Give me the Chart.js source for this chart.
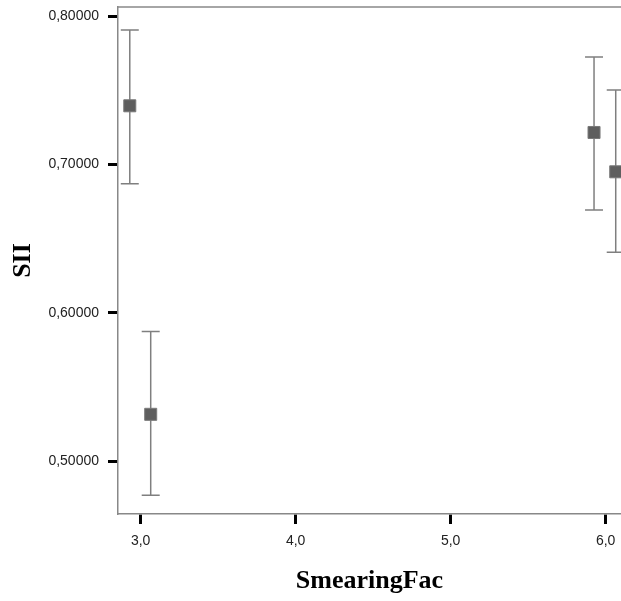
<!DOCTYPE html>
<html>
<head>
<meta charset="utf-8">
<script src="https://cdn.jsdelivr.net/npm/chart.js@4"></script>
<style>
    html, body { margin: 0; padding: 0; background: #fff; }
    #wrap { width: 621px; height: 601px; }
</style>
</head>
<body>
<div id="wrap"><canvas id="myChart" width="621" height="601"></canvas></div>
<script>
// group means with error bars (lower / upper limits)
var smearingFac = [2.93, 3.065, 5.925, 6.065];
var siiMean = [0.7395, 0.5315, 0.7215, 0.695];
var siiLow = [0.687, 0.477, 0.6692, 0.6407];
var siiHigh = [0.7906, 0.5874, 0.7724, 0.7501];

var xTicks = [3, 4, 5, 6];
var yTicks = [0.5, 0.6, 0.7, 0.8];

const tickFont = { family: 'Liberation Sans, Arial', size: 14 };
const titleFont = { family: 'Liberation Serif, Times New Roman', size: 26, weight: 'bold' };

// whiskers go behind the markers, plus the top frame line
const errorBars = {
    id: 'errorBars',
    beforeDatasetsDraw(chart) {
        const ctx = chart.ctx;
        const xs = chart.scales.x;
        const ys = chart.scales.y;
        const area = chart.chartArea;
        ctx.save();
        ctx.strokeStyle = '#888';
        ctx.lineWidth = 1.5;
        ctx.beginPath();
        ctx.moveTo(area.left, area.top);
        ctx.lineTo(area.right, area.top);
        ctx.stroke();

        ctx.strokeStyle = '#7f7f7f';
        ctx.lineWidth = 1.5;
        for (let i = 0; i < smearingFac.length; i++) {
            const x = xs.getPixelForValue(smearingFac[i]);
            const y1 = ys.getPixelForValue(siiLow[i]);
            const y2 = ys.getPixelForValue(siiHigh[i]);
            ctx.beginPath();
            ctx.moveTo(x, y1);
            ctx.lineTo(x, y2);
            ctx.moveTo(x - 9, y1);
            ctx.lineTo(x + 9, y1);
            ctx.moveTo(x - 9, y2);
            ctx.lineTo(x + 9, y2);
            ctx.stroke();
        }
        ctx.restore();
    }
};

// fixed axis sizes, no extra room for overhanging labels
function noPad(scale) {
    scale.paddingLeft = 0;
    scale.paddingRight = 0;
    scale.paddingTop = 0;
    scale.paddingBottom = 0;
}

var points = smearingFac.map((v, i) => ({ x: v, y: siiMean[i] }));

var ctx = document.getElementById('myChart').getContext('2d');
var chart = new Chart(ctx, {
    type: 'scatter',
    data: {
        datasets: [{
            data: points,
            pointStyle: 'rect',
            pointRadius: 8.5,
            pointHoverRadius: 8.5,
            backgroundColor: '#5e5e5e',
            borderColor: '#7a7a7a',
            borderWidth: 1
        }]
    },
    options: {
        responsive: false,
        animation: false,
        events: [],
        layout: { autoPadding: false, padding: { top: 7, right: 0, left: 0, bottom: 0 } },
        plugins: {
            legend: { display: false },
            tooltip: { enabled: false }
        },
        scales: {
            x: {
                type: 'linear',
                min: 2.854,
                max: 6.099,
                afterFit: (scale) => { scale.height = 87; noPad(scale); },
                afterBuildTicks: (scale) => { scale.ticks = xTicks.map(v => ({ value: v })); },
                border: { display: true, color: '#888', width: 1.5 },
                grid: {
                    drawOnChartArea: false,
                    drawTicks: true,
                    tickLength: 10,
                    tickWidth: 3,
                    tickColor: '#000'
                },
                ticks: {
                    autoSkip: false,
                    maxRotation: 0,
                    padding: 9,
                    color: '#222',
                    font: tickFont,
                    callback: (v) => v.toFixed(1).replace('.', ',')
                },
                title: {
                    display: true,
                    text: 'SmearingFac',
                    color: '#000',
                    font: titleFont,
                    padding: { top: 0, bottom: 4 }
                }
            },
            y: {
                type: 'linear',
                min: 0.4643,
                max: 0.8061,
                afterFit: (scale) => { scale.width = 118; noPad(scale); },
                afterBuildTicks: (scale) => { scale.ticks = yTicks.map(v => ({ value: v })); },
                border: { display: true, color: '#888', width: 1.5 },
                grid: {
                    drawOnChartArea: false,
                    drawTicks: true,
                    tickLength: 10,
                    tickWidth: 3,
                    tickColor: '#000'
                },
                ticks: {
                    autoSkip: false,
                    padding: 9,
                    color: '#222',
                    font: tickFont,
                    callback: (v) => v.toFixed(5).replace('.', ',')
                },
                title: {
                    display: true,
                    text: 'SII',
                    color: '#000',
                    font: titleFont,
                    padding: { top: 8, bottom: 0 }
                }
            }
        }
    },
    plugins: [errorBars]
});
</script>
</body>
</html>
